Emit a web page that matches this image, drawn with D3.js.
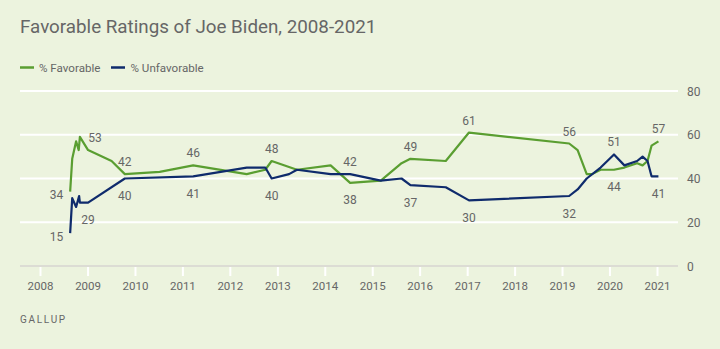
<!DOCTYPE html>
<html><head><meta charset="utf-8">
<script src="https://cdn.jsdelivr.net/npm/d3@7"></script>
<style>
html,body{margin:0;padding:0;background:#ecf3de;}
svg{display:block;font-family:Roboto,"Noto Sans",sans-serif;}
</style></head>
<body><svg id="c" width="720" height="349"></svg>
<script>
const title = "Favorable Ratings of Joe Biden, 2008-2021";
const seriesNames = ["% Favorable", "% Unfavorable"];
const favDates = ["2008-08-20","2008-09-05","2008-10-05","2008-10-25","2008-11-03","2009-01-05","2009-07-05","2009-10-15","2010-07-10","2011-03-25","2012-05-10","2012-09-30","2012-11-18","2013-06-01","2014-02-15","2014-07-15","2015-03-08","2015-08-15","2015-10-22","2016-07-20","2017-01-15","2019-02-25","2019-05-01","2019-07-10","2019-08-20","2019-10-25","2020-02-05","2020-04-25","2020-08-01","2020-09-12","2020-10-20","2020-11-20","2021-01-12"];
const favValues = [34,49,57,53,59,53,48,42,43,46,42,44,48,44,46,38,39,47,49,48,61,56,53,42,42,44,44,45,47,46,48,55,57];
const unfDates = ["2008-08-20","2008-09-05","2008-10-05","2008-10-28","2008-11-03","2009-01-05","2009-10-15","2011-03-25","2012-05-10","2012-09-30","2012-11-18","2013-04-01","2013-06-01","2014-02-15","2014-07-15","2015-03-08","2015-08-15","2015-10-22","2016-07-20","2017-01-15","2019-02-25","2019-05-01","2019-07-10","2019-10-25","2020-02-05","2020-04-25","2020-08-01","2020-09-12","2020-10-20","2020-11-20","2021-01-12"];
const unfValues = [15,31,27,32,29,29,40,41,45,45,40,42,44,42,42,39,40,37,36,30,32,35,40,45,51,46,48,50,48,41,41];
const labelDates = ["2008-08-20","2009-01-05","2009-10-15","2011-03-25","2012-11-18","2014-07-15","2015-10-22","2017-01-15","2019-02-25","2020-02-05","2021-01-12"];
const yTicks = [0,20,40,60,80];
const xTickYears = [2008,2009,2010,2011,2012,2013,2014,2015,2016,2017,2018,2019,2020,2021];
const source = "GALLUP";

const parse = d3.timeParse("%Y-%m-%d");
const fav = favDates.map((d,i)=>({key:d, date:parse(d), v:favValues[i]}));
const unf = unfDates.map((d,i)=>({key:d, date:parse(d), v:unfValues[i]}));
const GREEN = "#5a9e31", NAVY = "#0f2b6c", TXT = "#666";

const svg = d3.select("#c");
const x = d3.scaleTime().domain([new Date(2008,0,1), new Date(2021,0,1)]).range([40, 657]);
const y = d3.scaleLinear().domain([0,80]).range([266, 91]);
const L = 20, R = 678;

svg.append("text").attr("x",20).attr("y",33).attr("fill",TXT)
  .attr("font-size",18.8).text(title);

// legend
const lg = svg.append("g");
[[GREEN,20,39],[NAVY,111,130.5]].forEach((c,i)=>{
  lg.append("line").attr("x1",c[1]).attr("x2",c[1]+14).attr("y1",67.5).attr("y2",67.5)
    .attr("stroke",c[0]).attr("stroke-width",2.5);
  lg.append("text").attr("x",c[2]).attr("y",71.5).attr("font-size",11.6).attr("fill",TXT).text(seriesNames[i]);
});

// gridlines + y labels
yTicks.forEach(t=>{
  if (t>0) svg.append("line").attr("x1",L).attr("x2",R).attr("y1",y(t)).attr("y2",y(t))
    .attr("stroke","#fff").attr("stroke-width",2);
  svg.append("text").attr("x",687).attr("y",y(t)+4.5).attr("font-size",12).attr("fill",TXT).text(t);
});
// x axis
svg.append("line").attr("x1",L).attr("x2",R).attr("y1",y(0)).attr("y2",y(0))
  .attr("stroke","#dcdcd4").attr("stroke-width",2);
const xa = d3.axisBottom(x).tickValues(xTickYears.map(yr=>new Date(yr,0,1)))
  .tickFormat(d3.timeFormat("%Y")).tickSize(9).tickPadding(6);
const xg = svg.append("g").attr("transform",`translate(0,${y(0)+1})`).call(xa);
xg.select(".domain").remove();
xg.selectAll(".tick line").attr("stroke","#fff").attr("stroke-width",2);
xg.selectAll(".tick text").attr("fill",TXT).attr("font-size",11.5).attr("font-family","Roboto,sans-serif");

const line = d3.line().x(d=>x(d.date)).y(d=>y(d.v));
svg.append("path").datum(fav).attr("d",line).attr("fill","none").attr("stroke",GREEN).attr("stroke-width",2.2).attr("stroke-linejoin","round");
svg.append("path").datum(unf).attr("d",line).attr("fill","none").attr("stroke",NAVY).attr("stroke-width",2.2).attr("stroke-linejoin","round");

// labels
labelDates.forEach((ds,i)=>{
  const f = fav.find(d=>d.key===ds);
  const u = unf.find(d=>d.key===ds);
  const hi = f.v>=u.v ? f : u, lo = f.v>=u.v ? u : f;
  const px = x(hi.date);
  if (i===0) {
    [hi,lo].forEach(p=>svg.append("text").attr("x",px-7).attr("y",y(p.v)+7.5)
      .attr("text-anchor","end").attr("font-size",12).attr("fill",TXT).text(p.v));
    return;
  }
  const dx = i===1 ? 7 : 0;
  svg.append("text").attr("x",px+dx).attr("y",y(hi.v)-8).attr("text-anchor","middle")
    .attr("font-size",12).attr("fill",TXT).text(hi.v);
  svg.append("text").attr("x",px).attr("y",y(lo.v)+21.5).attr("text-anchor","middle")
    .attr("font-size",12).attr("fill",TXT).text(lo.v);
});

svg.append("text").attr("x",20).attr("y",323).attr("font-size",10).attr("letter-spacing",1.7)
  .attr("fill",TXT).text(source);
</script></body></html>
